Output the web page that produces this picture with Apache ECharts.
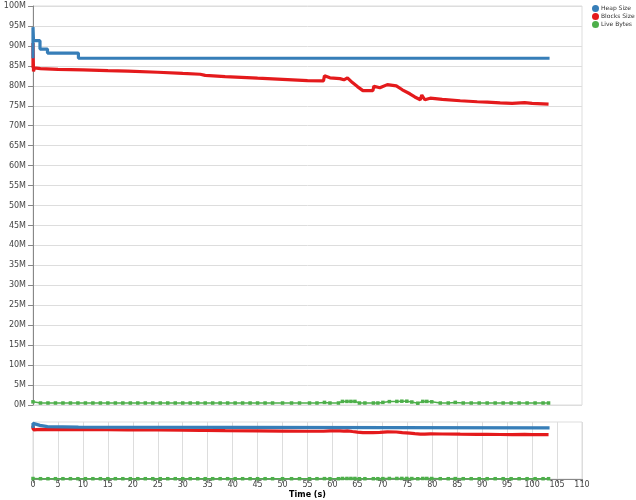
<!DOCTYPE html>
<html>
<head>
<meta charset="utf-8">
<script src="https://cdn.jsdelivr.net/npm/echarts@6/dist/echarts.min.js"></script>
<style>html,body{margin:0;padding:0;background:#fff}#c{width:636px;height:500px}</style>
</head>
<body>
<div id="c"></div>
<script>
// Values in millions of bytes
const seriesNames = ['Heap Size', 'Blocks Size', 'Live Bytes'];
const colors = ['#377eb8', '#e41a1c', '#4daf4a'];

const heapTimes = [0, 0, 0.1, 1.4, 1.4, 2.9, 2.9, 9.1, 9.1, 103.5];
const heapValues = [86.9, 94.7, 91.3, 91.3, 89.2, 89.2, 88.2, 88.2, 86.9, 86.9];

const blocksTimes = [0, 0, 0.1, 0.3, 1.5, 5, 10, 15, 19, 25, 30, 33.5, 34.5, 38.5, 45, 50, 55, 58.2, 58.4, 59.5, 61.5, 62.3, 63, 64, 65, 66.1, 68.1, 68.3, 69.5, 69.9, 71, 72.8, 74, 75.5, 76.5, 77.6, 77.9, 78.5, 79.6, 82, 85.6, 89, 91, 91.3, 93.6, 96, 98.5, 100, 103.3];
const blocksValues = [84.5, 90.7, 83.6, 84.5, 84.3, 84.1, 84.0, 83.8, 83.7, 83.4, 83.1, 82.9, 82.6, 82.3, 81.9, 81.6, 81.3, 81.25, 82.5, 82.0, 81.8, 81.5, 82.0, 80.8, 79.8, 78.8, 78.8, 79.9, 79.5, 79.3, 80.3, 80.0, 79.0, 78.0, 77.2, 76.5, 77.7, 76.5, 76.9, 76.6, 76.25, 76.0, 75.9, 76.2, 75.7, 75.6, 75.8, 75.6, 75.4];

const liveTimes = [0, 1.5, 3, 4.5, 6, 7.5, 9, 10.5, 12, 13.5, 15, 16.5, 18, 19.5, 21, 22.5, 24, 25.5, 27, 28.5, 30, 31.5, 33, 34.5, 36, 37.5, 39, 40.5, 42, 43.5, 45, 46.5, 48, 50, 51.8, 53.4, 55.4, 56.9, 58.4, 59.5, 61.2, 62, 62.9, 63.7, 64.5, 65.4, 66.5, 68.2, 69.1, 70.1, 71.4, 72.9, 73.9, 74.9, 75.9, 77.1, 78.1, 78.9, 79.9, 81.6, 83.2, 84.6, 86.2, 87.8, 89.4, 91, 92.6, 94.2, 95.8, 97.4, 99, 100.6, 102.2, 103.3];
const liveValues = [0.8, 0.5, 0.5, 0.5, 0.5, 0.5, 0.5, 0.5, 0.5, 0.5, 0.5, 0.5, 0.5, 0.5, 0.5, 0.5, 0.5, 0.5, 0.5, 0.5, 0.5, 0.5, 0.5, 0.5, 0.5, 0.5, 0.5, 0.5, 0.5, 0.5, 0.5, 0.5, 0.5, 0.5, 0.5, 0.5, 0.5, 0.5, 0.65, 0.5, 0.5, 0.9, 0.9, 0.9, 0.9, 0.5, 0.5, 0.5, 0.5, 0.65, 0.85, 0.9, 0.95, 0.95, 0.75, 0.45, 0.9, 0.9, 0.8, 0.5, 0.5, 0.65, 0.5, 0.5, 0.5, 0.5, 0.5, 0.5, 0.5, 0.5, 0.5, 0.5, 0.5, 0.5];

const yTickStep = 5; // M
const xTickStep = 5; // s

const M = 1e6;
function pairs(ts, vs) { return ts.map((t, i) => [t, vs[i] * M]); }
const dataSets = [pairs(heapTimes, heapValues), pairs(blocksTimes, blocksValues), pairs(liveTimes, liveValues)];

const font = 'DejaVu Sans, sans-serif';
const chart = echarts.init(document.getElementById('c'), null, {renderer: 'canvas'});

const series = [];
[0, 1].forEach(g => {
  dataSets.forEach((d, i) => {
    series.push({
      name: seriesNames[i],
      type: 'line',
      xAxisIndex: g,
      yAxisIndex: g,
      data: d,
      showSymbol: i === 2,
      symbol: 'rect',
      symbolSize: 3.5,
      animation: false,
      lineStyle: {color: colors[i], width: i === 2 ? 1.5 : 3.2},
      itemStyle: {color: colors[i]},
      z: i === 0 ? 3 : 2
    });
  });
});

chart.setOption({
  animation: false,
  color: colors,
  textStyle: {fontFamily: font},
  legend: {
    data: seriesNames,
    orient: 'vertical',
    left: 592,
    top: 5,
    padding: 0,
    icon: 'circle',
    itemWidth: 7,
    itemHeight: 7,
    itemGap: 1,
    textStyle: {fontSize: 6, color: '#333', padding: [0, 0, 0, -3]}
  },
  grid: [
    {left: 33, top: 6, width: 549, height: 399, show: true, borderColor: '#ddd', borderWidth: 1, containLabel: false, outerBoundsMode: 'none'},
    {left: 33, top: 422, width: 549, height: 57, show: true, borderColor: '#ddd', borderWidth: 1, containLabel: false, outerBoundsMode: 'none'}
  ],
  xAxis: [
    {gridIndex: 0, type: 'value', min: 0, max: 110, interval: xTickStep,
     axisLine: {show: false}, axisTick: {show: false}, axisLabel: {show: false}, splitLine: {show: false}},
    {gridIndex: 1, type: 'value', min: 0, max: 110, interval: xTickStep,
     name: 'Time (s)', nameLocation: 'middle', nameGap: 12,
     nameTextStyle: {fontSize: 8, fontWeight: 'bold', color: '#000'},
     axisLine: {show: true, lineStyle: {color: '#888'}},
     axisTick: {show: true, length: 4, lineStyle: {color: '#888'}},
     axisLabel: {fontSize: 8, color: '#444', margin: 2},
     splitLine: {show: true, lineStyle: {color: '#ddd'}}}
  ],
  yAxis: [
    {gridIndex: 0, type: 'value', min: 0, max: 100 * M, interval: yTickStep * M,
     name: 'Allocation', nameLocation: 'middle', nameGap: 25,
     nameTextStyle: {fontSize: 8, fontWeight: 'bold', color: '#000'},
     axisLine: {show: true, lineStyle: {color: '#888'}},
     axisTick: {show: true, length: 5, lineStyle: {color: '#888'}},
     axisLabel: {fontSize: 8, color: '#444', margin: 7, formatter: v => (v / M) + 'M'},
     splitLine: {show: true, lineStyle: {color: '#ddd'}}},
    {gridIndex: 1, type: 'value', min: 0, max: 97 * M,
     axisLine: {show: false}, axisTick: {show: false}, axisLabel: {show: false}, splitLine: {show: false}}
  ],
  series: series
});
</script>
</body>
</html>
